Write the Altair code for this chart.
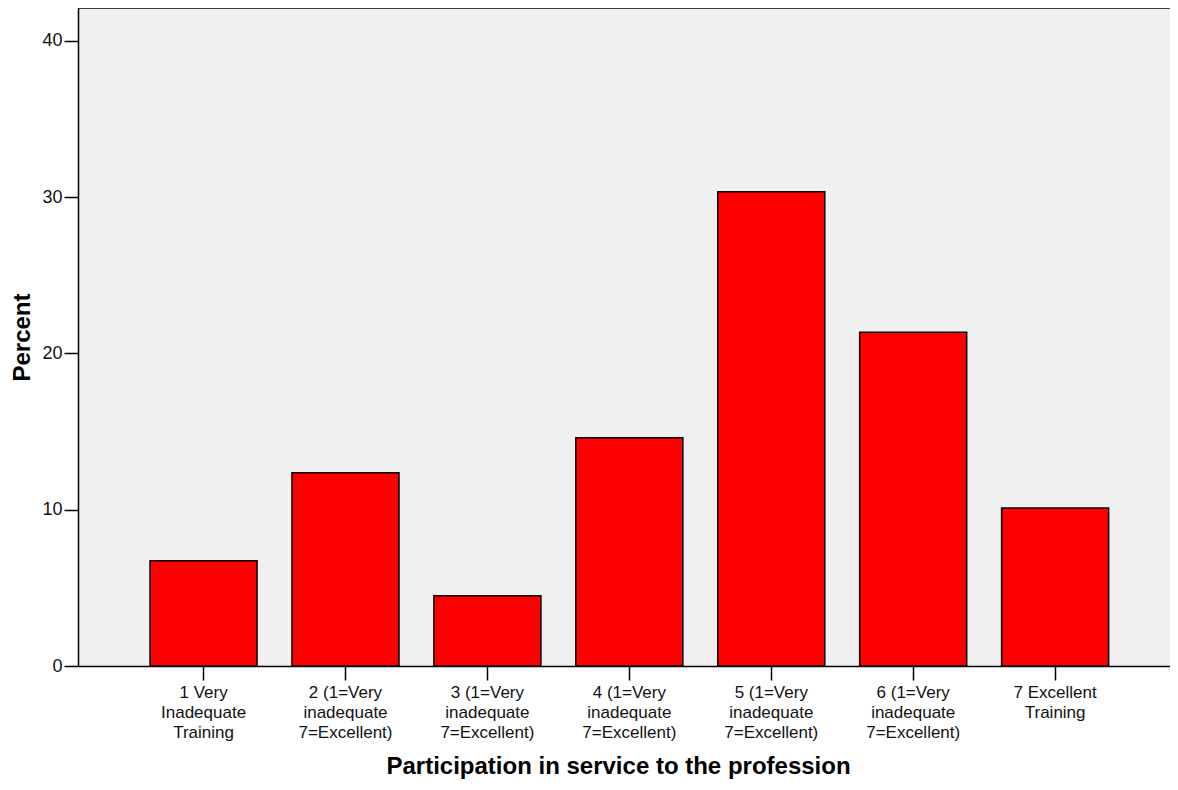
import altair as alt
import pandas as pd

categories = [
    "1 Very|Inadequate|Training",
    "2 (1=Very|inadequate|7=Excellent)",
    "3 (1=Very|inadequate|7=Excellent)",
    "4 (1=Very|inadequate|7=Excellent)",
    "5 (1=Very|inadequate|7=Excellent)",
    "6 (1=Very|inadequate|7=Excellent)",
    "7 Excellent|Training",
]
percents = [6.74, 12.36, 4.49, 14.61, 30.34, 21.35, 10.11]
y_ticks = [0, 10, 20, 30, 40]

df = pd.DataFrame({"category": categories, "percent": percents})

W, H = 1092, 658
LABEL_FONT = "Liberation Sans, Arial"
TITLE_FONT = "Liberation Sans, Arial"

bars = alt.Chart(df).mark_bar(color="#FF0000", stroke="black", strokeWidth=1.5).encode(
    x=alt.X(
        "category:N",
        sort=None,
        scale=alt.Scale(paddingInner=0.246, paddingOuter=0.47, align=0.54),
        axis=alt.Axis(
            title="Participation in service to the profession",
            labelAngle=0,
            labelExpr="split(datum.label, '|')",
            labelLineHeight=20,
            labelFont=LABEL_FONT,
            labelFontSize=17,
            labelColor="#111111",
            labelPadding=4,
            tickSize=14,
            tickColor="black",
            tickWidth=1.5,
            domainColor="black",
            domainWidth=1.5,
            titleFont=TITLE_FONT,
            titleFontSize=24,
            titleFontWeight="bold",
            titleColor="black",
            titlePadding=14,
            titleX=540,
        ),
    ),
    y=alt.Y(
        "percent:Q",
        scale=alt.Scale(domain=[0, 42.1], nice=False),
        axis=alt.Axis(
            values=y_ticks,
            title="Percent",
            grid=False,
            labelFont=LABEL_FONT,
            labelFontSize=18,
            labelColor="#111111",
            labelPadding=2,
            tickSize=14,
            tickColor="black",
            tickWidth=1.5,
            domainColor="black",
            domainWidth=1.5,
            titleFont=TITLE_FONT,
            titleFontSize=24,
            titleFontWeight="bold",
            titleColor="black",
            titlePadding=7,
        ),
    ),
)

top_border = alt.Chart(alt.Data(values=[{}])).mark_rule(color="black", strokeWidth=1.5).encode(
    x=alt.value(0), x2=alt.value(W), y=alt.value(0)
)

chart = alt.layer(bars, top_border).properties(
    width=W,
    height=H,
    autosize=alt.AutoSizeParams(type="none"),
    padding={"left": 70, "top": 0, "right": 0, "bottom": 116},
).configure_view(fill="#F0F0F0", stroke=None)

chart.save("out.html", embed_options={"renderer": "svg", "actions": False})
